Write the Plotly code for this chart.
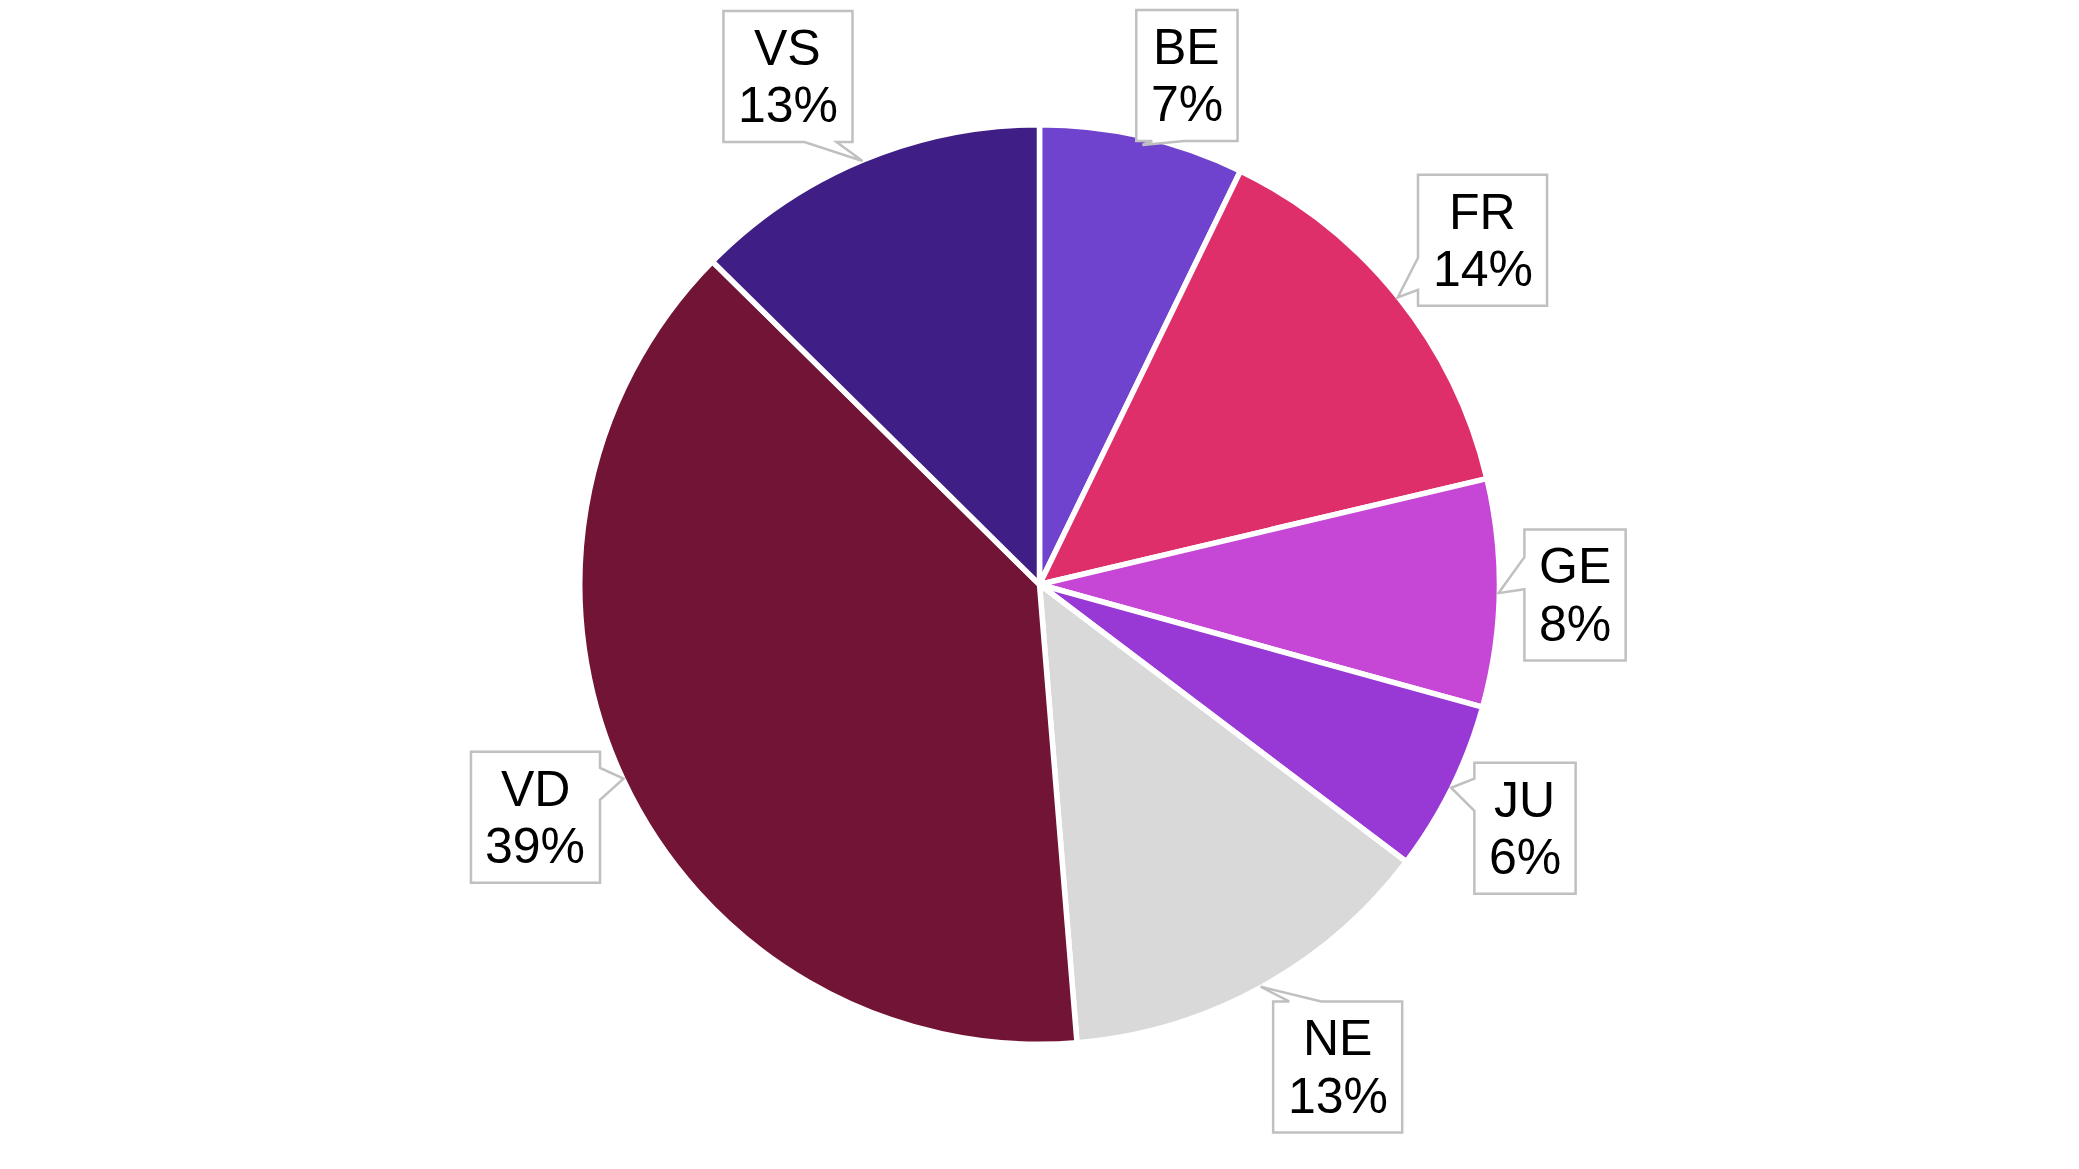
import math
import plotly.graph_objects as go

cantons = ["BE", "FR", "GE", "JU", "NE", "VD", "VS"]
shares = [7.2, 14.1, 8.0, 6.0, 13.4, 38.7, 12.6]
colors = ["#7043cf", "#de2f6b", "#c646d5", "#9838d5", "#d9d9d9", "#721435", "#3f1f86"]

# target screen size; the html body adds an 8px margin round the figure
SW, SH = 2079, 1169
OFF = 8
W, H = SW - 2 * OFF, SH - 2 * OFF
CX, CY = SW / 2, SH / 2
R = 457            # visible pie radius in px
STROKE = 5.5
FONT_PX = 50
BOX_H = 131
PAD_X = 14.5
DIST = 28
HALF_BASE = 16

# Arial / Liberation Sans advance widths (em)
char_w = {"A": .667, "B": .667, "C": .722, "D": .722, "E": .667, "F": .611, "G": .778,
          "H": .722, "I": .278, "J": .5, "K": .667, "L": .556, "M": .833, "N": .722,
          "O": .778, "P": .667, "Q": .778, "R": .722, "S": .667, "T": .611, "U": .722,
          "V": .667, "W": .944, "X": .667, "Y": .667, "Z": .611, "%": .889}


def text_w(s):
    return sum(char_w.get(c, .556) for c in s) * FONT_PX


def px(x, y):
    # screen px -> paper coords
    return (x - OFF) / W, 1 - (y - OFF) / H


total = sum(shares)
pcts = [f"{v / total * 100:.0f}%" for v in shares]
rd = R + STROKE / 2

fig = go.Figure(go.Pie(
    labels=cantons,
    values=shares,
    sort=False,
    direction="clockwise",
    rotation=0,
    marker=dict(colors=colors, line=dict(color="white", width=STROKE)),
    textinfo="none",
    hoverinfo="label+percent",
    domain=dict(x=[0, 1], y=[0.5 - rd / H, 0.5 + rd / H]),
    showlegend=False,
))

shapes = []
annotations = []
cum = 0
for name, v, pct in zip(cantons, shares, pcts):
    mid = (cum + v / 2) / total * 2 * math.pi
    cum += v
    ux, uy = math.sin(mid), -math.cos(mid)
    # pointer tip on the pie edge
    ax, ay = CX + (R + 2) * ux, CY + (R + 2) * uy

    bw = max(text_w(name), text_w(pct)) + 2 * PAD_X
    bh = BOX_H
    lx, ly = CX + (R + DIST) * ux, CY + (R + DIST) * uy
    bx = lx + math.copysign(bw / 2, ux)
    by = ly + uy * bh / 2
    lo, hi = OFF + bh / 2 + 2, SH - OFF - bh / 2 - 2
    if by < lo or by > hi:
        # pushed against the edge: slide a little back towards the pie axis
        bx -= math.copysign(12, ux)
    bx = min(max(bx, OFF + bw / 2 + 2), SW - OFF - bw / 2 - 2)
    by = min(max(by, lo), hi)
    x0, x1, y0, y1 = bx - bw / 2, bx + bw / 2, by - bh / 2, by + bh / 2

    dx_out = max(x0 - ax, ax - x1, 0)
    dy_out = max(y0 - ay, ay - y1, 0)
    if dy_out + 8 < dx_out:
        side = "left" if ax < x0 else "right"
        bc = min(max(ay - 20, y0 + 32), y1 - 32)
    else:
        side = "top" if ay < by else "bottom"
        bc = min(max(ax, x0 + 32), x1 - 32)
        ay = min(ay, y0 - 4) if side == "top" else max(ay, y1 + 4)

    pts = [(x0, y0)]
    if side == "top":
        pts += [(bc - HALF_BASE, y0), (ax, ay), (bc + HALF_BASE, y0)]
    pts.append((x1, y0))
    if side == "right":
        pts += [(x1, bc - HALF_BASE), (ax, ay), (x1, bc + HALF_BASE)]
    pts.append((x1, y1))
    if side == "bottom":
        pts += [(bc + HALF_BASE, y1), (ax, ay), (bc - HALF_BASE, y1)]
    pts.append((x0, y1))
    if side == "left":
        pts += [(x0, bc + HALF_BASE), (ax, ay), (x0, bc - HALF_BASE)]

    path = "M " + " L ".join("%.5f,%.5f" % px(x, y) for x, y in pts) + " Z"
    shapes.append(dict(type="path", path=path, xref="paper", yref="paper",
                       fillcolor="white", line=dict(color="#c0c0c0", width=2.5),
                       layer="above"))

    for txt, ty in ((name, by - 28.7), (pct, by + 28.7)):
        tx, tyy = px(bx, ty)
        annotations.append(dict(text=txt, x=tx, y=tyy, xref="paper", yref="paper",
                                xanchor="center", yanchor="middle", showarrow=False,
                                font=dict(size=FONT_PX, color="black")))

fig.update_layout(
    width=W, height=H,
    margin=dict(l=0, r=0, t=0, b=0),
    paper_bgcolor="white",
    plot_bgcolor="white",
    font=dict(family="Liberation Sans, Arial, Helvetica, sans-serif", color="black"),
    shapes=shapes,
    annotations=annotations,
)

fig.write_html("out.html")
